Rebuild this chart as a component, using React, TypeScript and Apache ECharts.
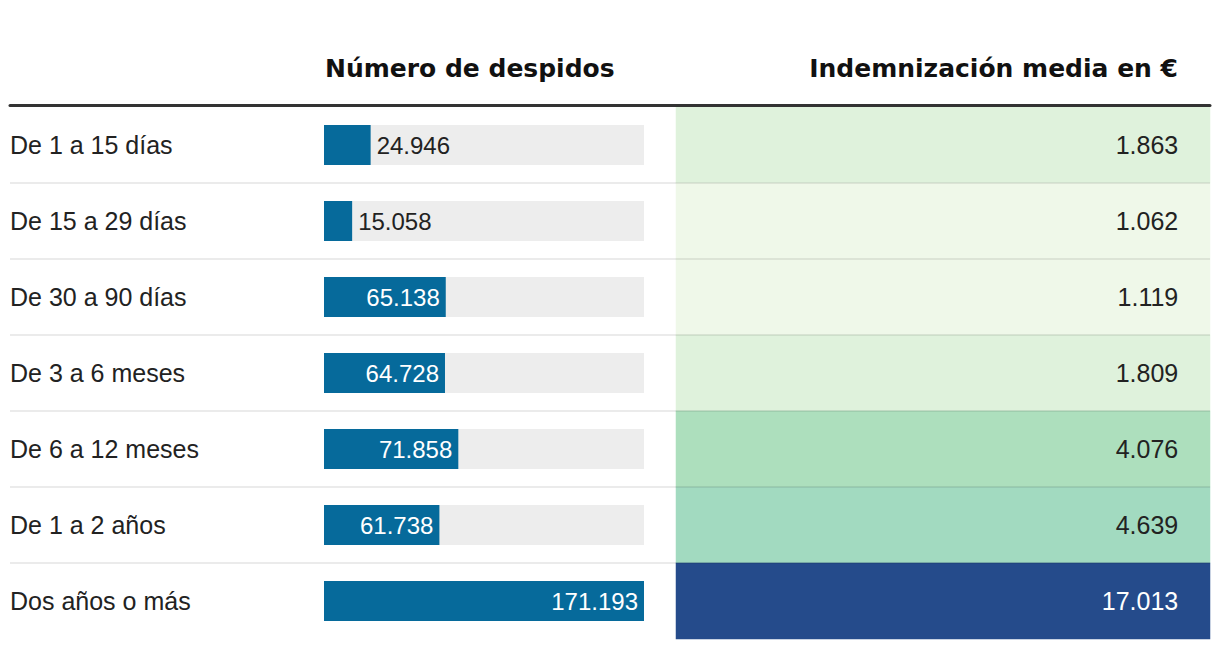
import React, { useEffect, useRef } from "react";
import * as echarts from "echarts";

const categories = [
  "De 1 a 15 días",
  "De 15 a 29 días",
  "De 30 a 90 días",
  "De 3 a 6 meses",
  "De 6 a 12 meses",
  "De 1 a 2 años",
  "Dos años o más",
];
const despidos = [24946, 15058, 65138, 64728, 71858, 61738, 171193];
const indemnizacion = [1863, 1062, 1119, 1809, 4076, 4639, 17013];
const headers = ["Número de despidos", "Indemnización media en €"];

const fmt = (v: number) => String(v).replace(/\B(?=(\d{3})+(?!\d))/g, ".");

export default function App() {
  const ref = useRef<HTMLDivElement>(null);
  useEffect(() => {
    if (!ref.current) return;
    const chart = echarts.init(ref.current, undefined, { renderer: "svg" });
    const maxD = Math.max(...despidos);
    const top = 107;
    const height = 76 * categories.length;
    chart.setOption({
      animation: false,
      backgroundColor: "#ffffff",
      title: [
        {
          text: headers[0],
          left: 325,
          top: 56,
          padding: 0,
          textStyle: { fontFamily: "DejaVu Sans", fontWeight: "bold", fontSize: 25, color: "#111" },
        },
        {
          text: headers[1],
          right: 42,
          top: 56,
          padding: 0,
          textStyle: { fontFamily: "DejaVu Sans", fontWeight: "bold", fontSize: 25, color: "#111" },
        },
      ],
      grid: [
        { left: 10, right: 10, top, height },
        { left: 324, width: 320, top, height },
        { left: 676, right: 10, top, height },
      ],
      xAxis: [
        {
          gridIndex: 0,
          type: "value",
          position: "top",
          offset: 1.5,
          min: 0,
          max: 1,
          z: 10,
          axisLine: { show: true, onZero: false, lineStyle: { color: "#333", width: 3 } },
          axisTick: { show: false },
          axisLabel: { show: false },
          splitLine: { show: false },
        },
        { gridIndex: 1, type: "value", min: 0, max: maxD, show: false },
        { gridIndex: 2, type: "category", data: ["v"], show: false },
      ],
      yAxis: [
        {
          gridIndex: 0,
          type: "category",
          data: categories,
          inverse: true,
          z: 10,
          axisLine: { show: false },
          axisTick: { show: false },
          axisLabel: {
            inside: true,
            margin: 0,
            align: "left",
            fontSize: 25,
            fontFamily: "Liberation Sans",
            color: "#222",
            padding: [0, 0, 4, 0],
          },
          splitLine: {
            show: true,
            showMinLine: false,
            showMaxLine: false,
            lineStyle: { color: "rgba(0,0,0,0.08)", width: 2 },
          },
        },
        { gridIndex: 1, type: "category", data: categories, inverse: true, show: false },
        { gridIndex: 2, type: "category", data: categories, inverse: true, show: false },
      ],
      visualMap: {
        type: "piecewise",
        show: false,
        seriesIndex: 1,
        dimension: 2,
        pieces: [
          { lt: 1500, color: "#eff8e9" },
          { gte: 1500, lt: 3000, color: "#dff2dc" },
          { gte: 3000, lt: 4300, color: "#addfbd" },
          { gte: 4300, lt: 10000, color: "#a2dac0" },
          { gte: 10000, color: "#254b8b" },
        ],
      },
      series: [
        {
          type: "bar",
          xAxisIndex: 1,
          yAxisIndex: 1,
          barWidth: 40,
          showBackground: true,
          backgroundStyle: { color: "#ededed" },
          itemStyle: { color: "#066a9b" },
          label: {
            show: true,
            fontSize: 24,
            fontFamily: "Liberation Sans",
            formatter: (p: any) => fmt(p.value),
          },
          data: despidos.map((v) => ({
            value: v,
            label:
              v / maxD > 0.2
                ? { position: "insideRight", color: "#ffffff", distance: 6 }
                : { position: "right", color: "#222", distance: 6 },
          })),
        },
        {
          type: "heatmap",
          xAxisIndex: 2,
          yAxisIndex: 2,
          itemStyle: { borderWidth: 0 },
          emphasis: { disabled: true },
          label: {
            show: true,
            position: "insideRight",
            distance: 32,
            fontSize: 25,
            fontFamily: "Liberation Sans",
            padding: [0, 0, 4, 0],
            formatter: (p: any) => fmt(p.value[2]),
          },
          data: indemnizacion.map((v, i) => ({
            value: [0, i, v],
            label: { color: v > 10000 ? "#ffffff" : "#222" },
          })),
        },
      ],
    });
    return () => chart.dispose();
  }, []);
  return (
    <div
      ref={ref}
      style={{ position: "fixed", left: 0, top: 0, width: 1220, height: 648, background: "#fff" }}
    />
  );
}
